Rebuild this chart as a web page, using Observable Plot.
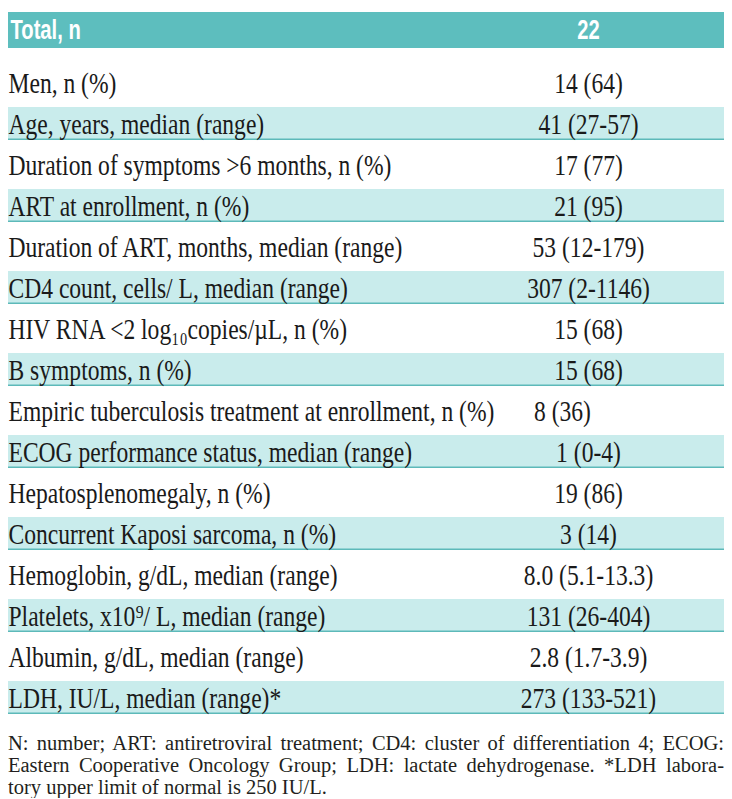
<!DOCTYPE html>
<html><head><meta charset="utf-8">
<script src="https://cdn.jsdelivr.net/npm/d3@7"></script>
<script src="https://cdn.jsdelivr.net/npm/@observablehq/plot@0.6"></script>
<style>
body{margin:0;background:#fff;}
#chart{width:732px;}
#chart svg{display:block;}
.note{font-family:"Liberation Serif",serif;font-size:20.5px;line-height:22px;color:#231f20;margin:6px 8px 0 8px;width:716px;}
.note div{white-space:nowrap;}
.note .j{text-align:justify;text-align-last:justify;}
</style></head><body><div id="chart"></div><div class="note" id="note"></div><script>
const headerLabel = "Total, n";
const headerValue = "22";
const labels = [
  "Men, n (%)",
  "Age, years, median (range)",
  "Duration of symptoms >6 months, n (%)",
  "ART at enrollment, n (%)",
  "Duration of ART, months, median (range)",
  "CD4 count, cells/ L, median (range)",
  "HIV RNA <2 log\u2081\u2080copies/\u00b5L, n (%)",
  "B symptoms, n (%)",
  "Empiric tuberculosis treatment at enrollment, n (%)",
  "ECOG performance status, median (range)",
  "Hepatosplenomegaly, n (%)",
  "Concurrent Kaposi sarcoma, n (%)",
  "Hemoglobin, g/dL, median (range)",
  "Platelets, x10\u2079/ L, median (range)",
  "Albumin, g/dL, median (range)",
  "LDH, IU/L, median (range)*"
];
const values = [
  "14 (64)",
  "41 (27-57)",
  "17 (77)",
  "21 (95)",
  "53 (12-179)",
  "307 (2-1146)",
  "15 (68)",
  "15 (68)",
  "8 (36)",
  "1 (0-4)",
  "19 (86)",
  "3 (14)",
  "8.0 (5.1-13.3)",
  "131 (26-404)",
  "2.8 (1.7-3.9)",
  "273 (133-521)"
];
const notes = [
  "N: number; ART: antiretroviral treatment; CD4: cluster of differentiation 4; ECOG:",
  "Eastern Cooperative Oncology Group; LDH: lactate dehydrogenase. *LDH labora-",
  "tory upper limit of normal is 250 IU/L."
];

const rows = labels.map((label, i) => ({label, value: values[i], shaded: i % 2 === 1}));
const shaded = rows.filter(d => d.shaded);
const head = [{label: headerLabel, value: headerValue}];
const order = [headerLabel, ...labels];
// the longest label pushes its value a little to the left, as in the original
const longest = d3.greatest(rows, d => d.label.length);
const regular = rows.filter(d => d !== longest);

const serif = "Liberation Serif, Times New Roman, serif";
const sans = "Liberation Sans Narrow, Liberation Sans, Arial, sans-serif";
const body = {fill: "#1a1a1a", fontFamily: serif, fontSize: 30};

const plot = Plot.plot({
  width: 732,
  height: 726,
  marginLeft: 8, marginRight: 8, marginTop: 0, marginBottom: 0,
  x: {type: "point", domain: ["label", "value"], range: [8, 588], padding: 0, axis: null},
  y: {type: "band", domain: order, range: [21, 718], paddingInner: 8.5 / 41.5, paddingOuter: 0, axis: null},
  marks: [
    Plot.cell(head, {y: "label", fill: "#5dbebe", insetTop: -13, insetBottom: 10}),
    Plot.cell(shaded, {y: "label", fill: "#c9ecec"}),
    Plot.cell(shaded, {y: "label", fill: "#5db9b9", insetTop: 31.5}),
    Plot.text(head, {x: () => "label", y: "label", text: "label", textAnchor: "start", dx: 2, dy: -11.5,
      fill: "#ffffff", fontFamily: sans, fontWeight: "bold", fontSize: 28}),
    Plot.text(head, {x: () => "value", y: "label", text: "value", textAnchor: "middle", dy: -11.5,
      fill: "#ffffff", fontFamily: sans, fontWeight: "bold", fontSize: 28}),
    Plot.text(rows, {x: () => "label", y: "label", text: "label", textAnchor: "start", ...body}),
    Plot.text(regular, {x: () => "value", y: "label", text: "value", textAnchor: "middle", ...body}),
    Plot.text([longest], {x: () => "value", y: "label", text: "value", textAnchor: "middle", dx: -26, ...body})
  ]
});
document.getElementById("chart").append(plot);

// condense glyphs to match the narrow typeface of the original
plot.querySelectorAll("text").forEach(t => {
  const g = t.closest("g[font-family]");
  const fam = g ? g.getAttribute("font-family") : "";
  const ratio = fam.startsWith("Liberation Sans") ? 0.72 : 0.785;
  const len = t.getComputedTextLength();
  t.setAttribute("textLength", (len * ratio).toFixed(1));
  t.setAttribute("lengthAdjust", "spacingAndGlyphs");
});

const note = document.getElementById("note");
notes.forEach((line, i) => {
  const d = document.createElement("div");
  d.textContent = line;
  if (i < notes.length - 1) d.className = "j";
  note.append(d);
});
</script></body></html>
